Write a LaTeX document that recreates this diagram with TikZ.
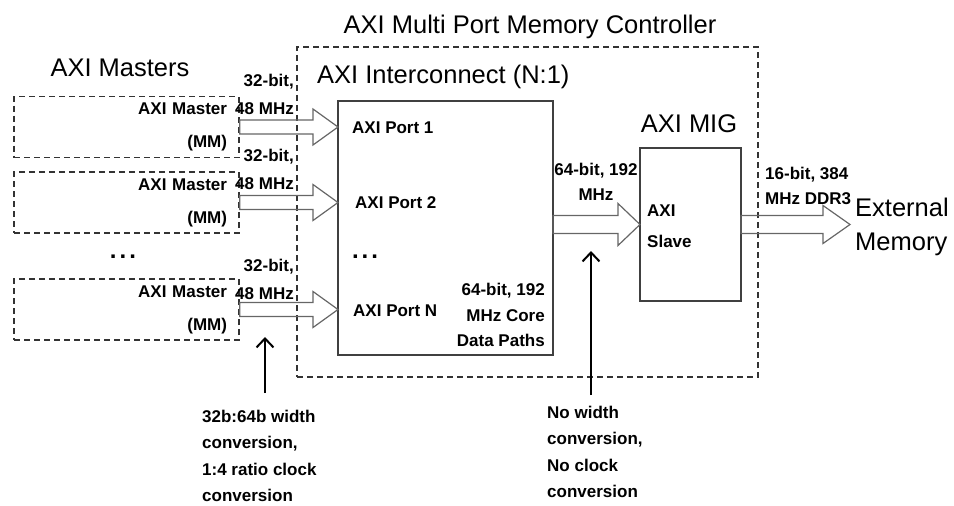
\documentclass[tikz,border=0pt]{standalone}
\usepackage{fontspec}
\setmainfont{Liberation Sans}
\usetikzlibrary{arrows.meta,calc}
\newcommand\lf[1]{\fontsize{17}{#1}\selectfont\bfseries}
\newcommand\bigf{\fontsize{25.5}{28}\selectfont}
\newcommand\blockarr[5]{%
  \draw[barrow] let \p1=(#1), \p2=(#2) in
    (\x1,\y1+#3) -- (\x2-#5,\y1+#3) -- (\x2-#5,\y1+#4) -- (\x2,\y1)
    -- (\x2-#5,\y1-#4) -- (\x2-#5,\y1-#3) -- (\x1,\y1-#3) -- cycle;}
\begin{document}
\begin{tikzpicture}[x=1pt,y=-1pt,
  big/.style={font=\bigf, inner sep=0pt},
  lbl/.style={inner sep=0pt},
  dbox/.style={draw=black!80, dash pattern=on 6pt off 4pt, line width=1.3pt},
  sbox/.style={draw=black!75, line width=1.6pt},
  barrow/.style={draw=black!60, line width=1.2pt, line join=miter},
  ptr/.style={line width=2.2pt, -{Straight Barb[length=9pt,width=17pt,line width=2pt]}},
  master/.style={dbox, minimum width=225pt, minimum height=61pt, text width=201pt,
    align=right, inner xsep=12pt, inner ysep=2pt, font=\lf{33}}]
\useasboundingbox (0,0) rectangle (954,506);

% titles
\node[big] (title) at (530,26.5) {AXI Multi Port Memory Controller};
\node[big] (mtitle) at (120,67.5) {AXI Masters};

% controller boundary
\node[dbox, minimum width=461pt, minimum height=330pt, inner sep=0pt, outer sep=0pt] (ctrl) at (527.5,212) {};
\node[big, anchor=west] (ictitle) at (317,76.5) {AXI Interconnect (N:1)};

% masters
\node[master] (m1) at (126.5,127) {AXI Master\\(MM)};
\node[master] (m2) at (126.5,202.5) {AXI Master\\(MM)};
\node[font=\fontsize{24}{24}\selectfont\bfseries, anchor=base, inner sep=0pt] (md) at (123,258) {.\hspace{3pt}.\hspace{3pt}.};
\node[master] (m3) at (126.5,309.5) {AXI Master\\(MM)};

% interconnect
\node[sbox, minimum width=215pt, minimum height=254pt, inner sep=0pt, outer sep=0pt] (ic) at (445.5,228) {};
\node[lbl, anchor=west, font=\lf{20}] (p1l) at (352,128) {AXI Port 1};
\node[lbl, anchor=west, font=\lf{20}] (p2l) at (355,203) {AXI Port 2};
\node[font=\fontsize{24}{24}\selectfont\bfseries, anchor=base, inner sep=0pt] (pd) at (365,258) {.\hspace{3pt}.\hspace{3pt}.};
\node[lbl, anchor=west, font=\lf{20}] (pNl) at (353,311) {AXI Port N};
\node[lbl, anchor=east, align=right, font=\lf{25.5}] (core) at (545,315) {64-bit, 192\\MHz Core\\Data Paths};

% MIG
\node[big] (migt) at (689,124) {AXI MIG};
\node[sbox, minimum width=101pt, minimum height=153pt, inner sep=0pt, outer sep=0pt] (mig) at (690.5,224.5) {};
\node[lbl, anchor=west, align=left, font=\lf{31}] (slave) at (647,226) {AXI\\Slave};

% external memory
\node[anchor=west, align=left, inner ysep=0pt, inner xsep=5pt, font=\fontsize{25.5}{34}\selectfont] (ext) at (850,226.5) {External\\Memory};

% bus labels
\node[lbl, anchor=east, align=right, font=\lf{28}] (b1) at (294,94) {32-bit,\\48 MHz};
\node[lbl, anchor=east, align=right, font=\lf{28}] (b2) at (294,169.5) {32-bit,\\48 MHz};
\node[lbl, anchor=east, align=right, font=\lf{28}] (b3) at (294,279) {32-bit,\\48 MHz};
\node[lbl, align=center, font=\lf{25}] (bm) at (596,182) {64-bit, 192\\MHz};
\node[lbl, anchor=west, align=left, font=\lf{25}] (bd) at (765,186) {16-bit, 384\\MHz DDR3};

% block arrows
\blockarr{m1.east}{ic.west |- m1.east}{7pt}{18pt}{25pt}
\blockarr{m2.east}{ic.west |- m2.east}{7pt}{18pt}{25pt}
\blockarr{m3.east}{ic.west |- m3.east}{7pt}{18pt}{25pt}
\blockarr{ic.east |- mig.west}{mig.west}{9pt}{21pt}{22pt}
\blockarr{mig.east}{ext.west}{9pt}{19pt}{27pt}

% notes and pointers
\coordinate (q1) at (265,337);
\coordinate (q2) at (591,251);
\node[lbl, anchor=north west, align=left, font=\lf{26.3}] (n1) at (202,410) {32b:64b width\\conversion,\\1:4 ratio clock\\conversion};
\node[lbl, anchor=north west, align=left, font=\lf{26.3}] (n2) at (547,406) {No width\\conversion,\\No clock\\conversion};
\draw[ptr] ($(n1.north -| q1)+(0,-17)$) -- (q1);
\draw[ptr] ($(n2.north -| q2)+(0,-11)$) -- (q2);
\end{tikzpicture}
\end{document}
